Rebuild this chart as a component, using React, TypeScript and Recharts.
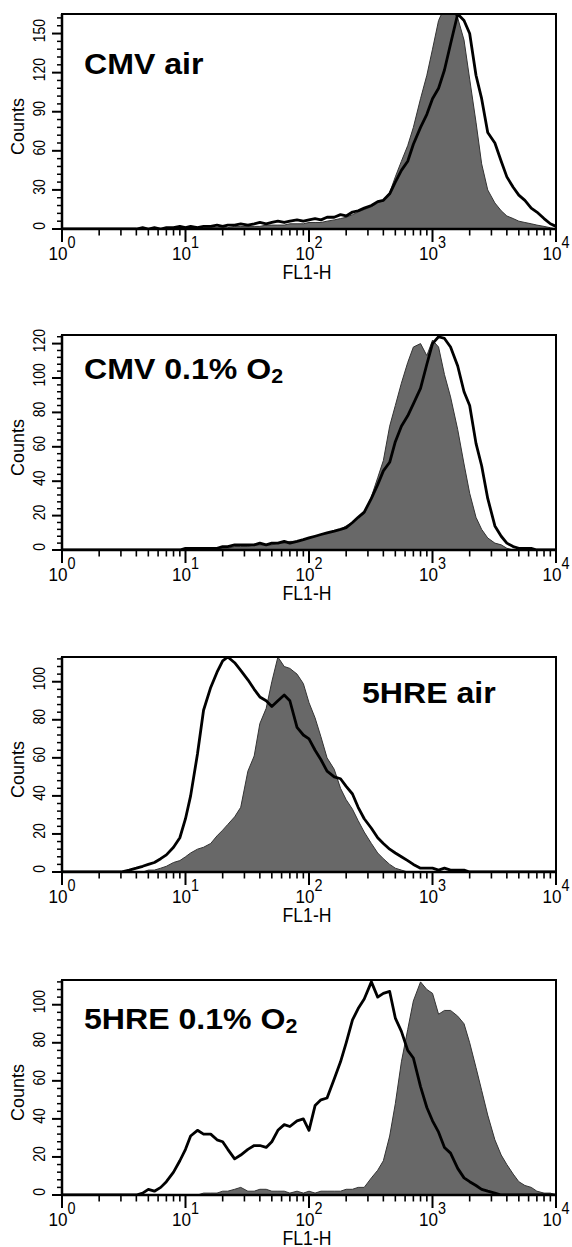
import React from 'react';
import { ComposedChart, Area, Line, XAxis, YAxis, ReferenceArea } from 'recharts';

const FONT = '"Liberation Sans", Arial, Helvetica, sans-serif';

// FL1-H channel positions (log axis)
const fl1H = [
  1, 3, 3.5, 4, 4.5, 5, 5.6, 6.3, 7, 8, 9, 10, 11, 12.5, 14, 16, 18, 20, 22, 25, 28, 32, 36, 40,
  45, 50, 56, 63, 70, 80, 90, 100, 112, 125, 140, 160, 180, 200, 225, 250, 280, 320, 360, 400,
  450, 500, 560, 630, 700, 800, 900, 1000, 1120, 1250, 1400, 1600, 1800, 2000, 2250, 2500, 2800,
  3200, 3600, 4000, 4500, 5000, 5600, 6300, 7000, 8000, 9000, 10000,
];

// CMV air
const cmvAirFilled = [
  0, 0, 0, 0, 0, 0, 0, 0, 0, 0, 1, 0, 1, 1, 1, 1, 1, 1, 1, 2, 2, 2, 2, 2,
  3, 3, 3, 3, 4, 4, 4, 5, 5, 5, 6, 7, 8, 9, 11, 13, 15, 17, 20, 22,
  28, 40, 52, 64, 78, 100, 118, 138, 160, 170, 168, 162, 145, 115, 82, 50, 30,
  20, 14, 10, 8, 6, 5, 4, 3, 2, 1, 0,
];
const cmvAirLine = [
  0, 0, 0, 0, 1, 0, 1, 0, 1, 1, 2, 1, 2, 1, 2, 2, 3, 2, 3, 3, 4, 3, 4, 5,
  4, 5, 6, 5, 6, 7, 6, 7, 8, 7, 9, 9, 11, 10, 13, 14, 16, 18, 21, 22,
  27, 36, 45, 52, 65, 78, 88, 100, 108, 122, 142, 165, 160, 150, 118, 100, 74,
  66, 52, 40, 32, 26, 22, 16, 13, 8, 4, 2,
];

// CMV 0.1% O2
const cmvHypoxFilled = [
  0, 0, 0, 0, 0, 0, 0, 0, 0, 0, 0, 0, 0, 1, 0, 1, 1, 1, 1, 2, 2, 2, 3, 3,
  3, 3, 4, 4, 5, 5, 6, 7, 8, 9, 10, 11, 12, 14, 16, 19, 21, 31, 42, 52,
  72, 84, 97, 109, 118, 120, 113, 122, 118, 102, 89, 70, 50, 33, 19, 12, 7,
  4, 3, 1, 0, 0, 0, 0, 0, 0, 0, 0,
];
const cmvHypoxLine = [
  0, 0, 0, 0, 0, 0, 0, 0, 0, 0, 0, 1, 1, 1, 1, 1, 1, 2, 2, 3, 3, 3, 3, 4,
  3, 4, 4, 5, 4, 5, 6, 7, 8, 9, 10, 11, 12, 13, 16, 19, 22, 30, 38, 46,
  51, 63, 72, 78, 85, 94, 108, 120, 124, 123, 118, 107, 92, 84, 62, 49, 30,
  14, 8, 4, 2, 1, 1, 1, 0, 0, 0, 0,
];

// 5HRE air
const hreAirFilled = [
  0, 0, 0, 0, 0, 1, 1, 2, 3, 5, 6, 8, 10, 12, 13, 15, 19, 22, 25, 29, 34, 53, 61, 78,
  86, 100, 113, 108, 107, 104, 99, 89, 81, 71, 60, 54, 44, 38, 33, 27, 21, 15, 10, 7,
  4, 2, 1, 0, 0, 0, 0, 0, 0, 0, 0, 0, 0, 0, 0, 0, 0,
  0, 0, 0, 0, 0, 0, 0, 0, 0, 0, 0,
];
const hreAirLine = [
  0, 0, 1, 2, 3, 4, 5, 7, 9, 13, 18, 28, 40, 62, 85, 97, 105, 111, 113, 110, 106, 101, 96, 92,
  90, 87, 90, 93, 90, 76, 72, 70, 64, 59, 53, 50, 49, 45, 41, 34, 28, 23, 18, 15,
  12, 10, 8, 6, 4, 2, 2, 2, 1, 2, 1, 1, 1, 0, 0, 0, 0,
  0, 0, 0, 0, 0, 0, 0, 0, 0, 0, 0,
];

// 5HRE 0.1% O2
const hreHypoxFilled = [
  0, 0, 0, 0, 0, 0, 0, 0, 0, 0, 0, 0, 0, 0, 1, 1, 1, 2, 2, 3, 4, 2, 2, 3,
  3, 2, 2, 2, 1, 2, 1, 2, 1, 2, 2, 2, 2, 3, 3, 4, 4, 9, 13, 18,
  31, 48, 70, 87, 102, 112, 108, 106, 95, 97, 97, 94, 90, 80, 67, 55, 42,
  29, 21, 16, 11, 7, 5, 4, 2, 1, 1, 0,
];
const hreHypoxLine = [
  0, 0, 0, 0, 1, 3, 2, 4, 7, 12, 18, 24, 31, 34, 32, 32, 29, 28, 24, 19, 21, 24, 26, 26,
  25, 28, 34, 37, 36, 39, 40, 34, 47, 50, 51, 61, 70, 80, 92, 98, 103, 112, 104, 106,
  107, 93, 86, 76, 72, 57, 46, 39, 33, 25, 22, 14, 9, 7, 5, 3, 2,
  1, 0, 0, 0, 0, 0, 0, 0, 0, 0, 0,
];

const logTicks = [
  1, 2, 3, 4, 5, 6, 7, 8, 9,
  10, 20, 30, 40, 50, 60, 70, 80, 90,
  100, 200, 300, 400, 500, 600, 700, 800, 900,
  1000, 2000, 3000, 4000, 5000, 6000, 7000, 8000, 9000,
  10000,
];

const ticks30 = [0, 6, 12, 18, 24, 30, 36, 42, 48, 54, 60, 66, 72, 78, 84, 90, 96, 102, 108, 114, 120, 126, 132, 138, 144, 150, 156, 162];
const labels30 = [0, 30, 60, 90, 120, 150];
const ticks20a = [0, 4, 8, 12, 16, 20, 24, 28, 32, 36, 40, 44, 48, 52, 56, 60, 64, 68, 72, 76, 80, 84, 88, 92, 96, 100, 104, 108, 112, 116, 120, 124];
const labels20a = [0, 20, 40, 60, 80, 100, 120];
const ticks20b = [0, 4, 8, 12, 16, 20, 24, 28, 32, 36, 40, 44, 48, 52, 56, 60, 64, 68, 72, 76, 80, 84, 88, 92, 96, 100, 104, 108, 112];
const labels20b = [0, 20, 40, 60, 80, 100];

const XTick = (props: any) => {
  const { x, y, payload } = props;
  const v = payload.value as number;
  const e = Math.log10(v);
  const major = Math.abs(e - Math.round(e)) < 1e-9;
  return (
    <g>
      <line x1={x} x2={x} y1={y} y2={y + (major ? 13 : 6.5)} stroke="#000" strokeWidth={major ? 2 : 1.6} />
      {major && (
        <text transform={`translate(${x},${y + 31}) scale(0.9,1)`} textAnchor="middle" fontFamily={FONT} fontSize={19} fill="#000">
          10<tspan fontSize={16} dy={-12}>{Math.round(e)}</tspan>
        </text>
      )}
    </g>
  );
};

const makeYTick = (labels: number[]) => (props: any) => {
  const { x, y, payload } = props;
  const v = payload.value as number;
  const major = labels.includes(v);
  return (
    <g>
      <line x1={x - (major ? 10 : 5)} x2={x} y1={y} y2={y} stroke="#000" strokeWidth={major ? 2 : 1.5} />
      {major && (
        <text transform={`translate(${x - 17},${y - 3}) rotate(-90) scale(0.82,1)`} textAnchor="middle" fontFamily={FONT} fontSize={17} fill="#000">
          {v}
        </text>
      )}
    </g>
  );
};

const CountsLabel = (props: any) => {
  const vb = props.viewBox ?? { x: 0, y: 14, width: 62, height: 215 };
  return (
    <text transform={`translate(${vb.x + 24},${vb.y + vb.height / 2 + 5}) rotate(-90)`} textAnchor="middle" fontFamily={FONT} fontSize={18} fill="#000">
      Counts
    </text>
  );
};

const FlLabel = (props: any) => {
  const vb = props.viewBox ?? { x: 62, y: 229, width: 494, height: 61 };
  return (
    <text transform={`translate(${vb.x + vb.width / 2 - 2},${vb.y + 50}) scale(0.84,1)`} textAnchor="middle" fontFamily={FONT} fontSize={21} fill="#000">
      FL1-H
    </text>
  );
};

type PanelProps = {
  top: number;
  filled: number[];
  line: number[];
  yMax: number;
  yTicks: number[];
  yLabels: number[];
  title: string;
  sub?: string;
  tx: number;
  ty: number;
};

const Panel = ({ top, filled, line, yMax, yTicks, yLabels, title, sub, tx, ty }: PanelProps) => {
  const data = fl1H.map((x, i) => ({ x, filled: filled[i], line: line[i] }));
  const TitleLabel = (props: any) => {
    const vb = props.viewBox ?? { x: 62, y: 14 };
    return (
      <text transform={`translate(${vb.x + tx},${vb.y + ty}) scale(1.07,1)`} fontFamily={FONT} fontWeight="bold" fontSize={30} fill="#000">
        {title}
        {sub && <tspan fontSize={20} dy={4}>{sub}</tspan>}
      </text>
    );
  };
  return (
    <div style={{ position: 'absolute', left: 0, top, width: 572, height: 290 }}>
      <ComposedChart width={572} height={290} data={data} margin={{ top: 14, right: 16, bottom: 0, left: 0 }}>
        <XAxis
          dataKey="x"
          type="number"
          scale="log"
          domain={[1, 10000]}
          allowDataOverflow
          ticks={logTicks}
          interval={0}
          tickSize={0}
          tickMargin={0}
          tickLine={false}
          tick={XTick}
          axisLine={{ stroke: '#000', strokeWidth: 2.5 }}
          height={61}
          label={{ content: FlLabel }}
        />
        <YAxis
          type="number"
          domain={[0, yMax]}
          allowDataOverflow
          ticks={yTicks}
          interval={0}
          tickSize={0}
          tickMargin={0}
          tickLine={false}
          tick={makeYTick(yLabels)}
          axisLine={{ stroke: '#000', strokeWidth: 2.5 }}
          width={62}
          label={{ content: CountsLabel }}
        />
        <Area dataKey="filled" type="linear" fill="#686868" fillOpacity={1} stroke="#333" strokeWidth={1} isAnimationActive={false} />
        <Line dataKey="line" type="linear" stroke="#000" strokeWidth={2.8} strokeLinejoin="round" dot={false} isAnimationActive={false} />
        <ReferenceArea x1={1} x2={10000} y1={0} y2={yMax} fill="none" stroke="#000" strokeWidth={2} label={{ content: TitleLabel }} />
      </ComposedChart>
    </div>
  );
};

export default function App() {
  return (
    <div style={{ position: 'absolute', left: 0, top: 0, width: 572, height: 1247, overflow: 'hidden', background: '#fff' }}>
      <Panel top={0} filled={cmvAirFilled} line={cmvAirLine} yMax={165} yTicks={ticks30} yLabels={labels30} title="CMV air" tx={22} ty={60} />
      <Panel top={321} filled={cmvHypoxFilled} line={cmvHypoxLine} yMax={125} yTicks={ticks20a} yLabels={labels20a} title="CMV 0.1% O" sub="2" tx={22} ty={44} />
      <Panel top={643} filled={hreAirFilled} line={hreAirLine} yMax={113} yTicks={ticks20b} yLabels={labels20b} title="5HRE air" tx={300} ty={46} />
      <Panel top={966} filled={hreHypoxFilled} line={hreHypoxLine} yMax={113} yTicks={ticks20b} yLabels={labels20b} title="5HRE 0.1% O" sub="2" tx={22} ty={49} />
    </div>
  );
}
